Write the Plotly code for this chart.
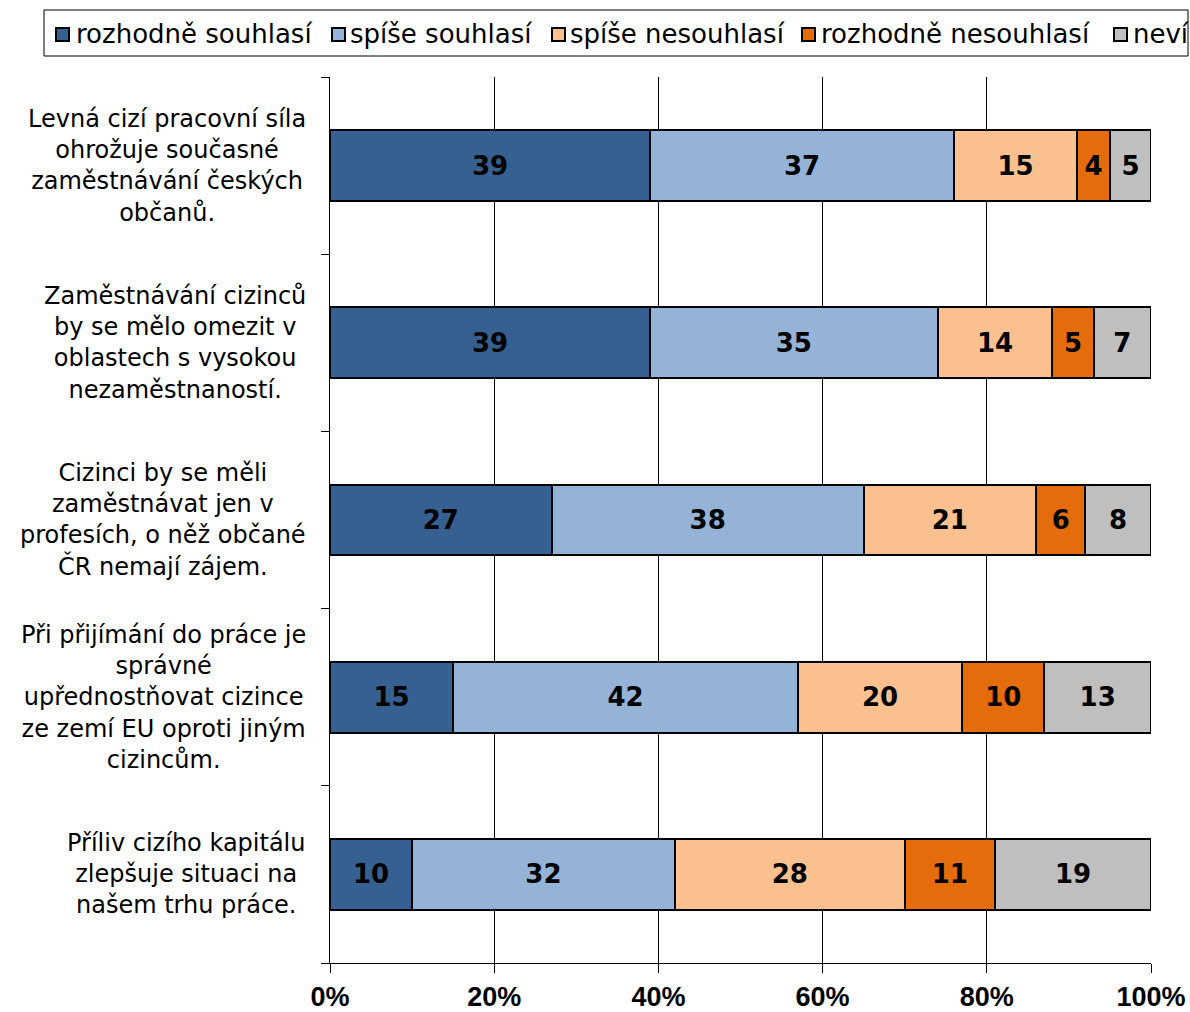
import plotly.graph_objects as go

categories = [
    "Levná cizí pracovní síla<br>ohrožuje současné<br>zaměstnávání českých<br>občanů.",
    "Zaměstnávání cizinců<br>by se mělo omezit v<br>oblastech s vysokou<br>nezaměstnaností.",
    "Cizinci by se měli<br>zaměstnávat jen v<br>profesích, o něž občané<br>ČR nemají zájem.",
    "Při přijímání do práce je<br>správné<br>upřednostňovat cizince<br>ze zemí EU oproti jiným<br>cizincům.",
    "Příliv cizího kapitálu<br>zlepšuje situaci na<br>našem trhu práce.",
]
series_names = ["rozhodně souhlasí", "spíše souhlasí", "spíše nesouhlasí", "rozhodně nesouhlasí", "neví"]
rozhodne_souhlasi = [39, 39, 27, 15, 10]
spise_souhlasi = [37, 35, 38, 42, 32]
spise_nesouhlasi = [15, 14, 21, 20, 28]
rozhodne_nesouhlasi = [4, 5, 6, 10, 11]
nevi = [5, 7, 8, 13, 19]
colors = ["#366092", "#95B3D7", "#FAC090", "#E46C0A", "#BFBFBF"]
x_tickvals = [0, 20, 40, 60, 80, 100]
x_ticktext = ["0%", "20%", "40%", "60%", "80%", "100%"]

series = [rozhodne_souhlasi, spise_souhlasi, spise_nesouhlasi, rozhodne_nesouhlasi, nevi]
ypos = list(range(len(categories)))

# body margin removed via post_script, so figure fills the window
W, H = 1190, 1012
ML, MT = 330, 77
MR, MB = 39, 49
PW, PH = W - ML - MR, H - MT - MB


def px_x(px):
    return (px - ML) / PW


def px_y(py):
    return (H - MB - py) / PH


fig = go.Figure()
for name, vals, col in zip(series_names, series, colors):
    fig.add_trace(go.Bar(
        y=ypos, x=vals, name=name, orientation="h",
        marker=dict(color=col, line=dict(color="black", width=2)),
        text=vals, textposition="inside", insidetextanchor="middle",
        textangle=0, constraintext="none",
        textfont=dict(family="DejaVu Sans", size=26, color="black", weight="bold"),
        width=0.4, showlegend=False, hoverinfo="skip",
    ))

for i, cat in enumerate(categories):
    fig.add_annotation(
        x=0, xref="paper", y=i, yref="y", text=cat, showarrow=False,
        xanchor="right", yanchor="middle", align="center", xshift=-22,
        font=dict(family="DejaVu Sans", size=24, color="black"),
    )

# Legend (drawn manually to keep it in one row like the reference)
fig.add_shape(type="rect", xref="paper", yref="paper",
              x0=px_x(44), x1=px_x(1188), y0=px_y(56), y1=px_y(10),
              line=dict(color="black", width=1), fillcolor="white", layer="below")
legend_sq_px = [55, 331, 551, 801, 1113]
legend_tx_px = [74, 348, 568, 819, 1131]
for name, col, sx, tx in zip(series_names, colors, legend_sq_px, legend_tx_px):
    fig.add_shape(type="rect", xref="paper", yref="paper",
                  x0=px_x(sx + 1), x1=px_x(sx + 14), y0=px_y(41), y1=px_y(28),
                  line=dict(color="black", width=2), fillcolor=col)
    fig.add_annotation(x=px_x(tx), y=px_y(34), xref="paper", yref="paper",
                       text=name, showarrow=False, xanchor="left", yanchor="middle",
                       font=dict(family="DejaVu Sans", size=26, color="black"))

fig.update_layout(
    barmode="stack",
    width=W, height=H,
    margin=dict(l=ML, r=MR, t=MT, b=MB),
    paper_bgcolor="white", plot_bgcolor="white",
    showlegend=False,
    xaxis=dict(
        range=[0, 100], tickvals=x_tickvals, ticktext=x_ticktext,
        showgrid=True, gridcolor="black", gridwidth=1,
        showline=True, linecolor="black", linewidth=1,
        ticks="outside", ticklen=9, tickcolor="black",
        tickfont=dict(family="Liberation Sans", size=27, color="black", weight="bold"),
        ticklabelstandoff=1, zeroline=False, automargin=False,
    ),
    yaxis=dict(
        range=[4.5, -0.5], tickvals=[], showticklabels=False,
        showline=True, linecolor="black", linewidth=1,
        showgrid=False, zeroline=False, automargin=False,
        minor=dict(tickmode="array", tickvals=[-0.5, 0.5, 1.5, 2.5, 3.5, 4.5],
                   ticks="outside", ticklen=8, tickcolor="black", showgrid=False),
    ),
)

fig.write_html(
    "out.html",
    config={"displayModeBar": False},
    post_script="document.body.style.margin='0';document.body.style.overflow='hidden';",
)
